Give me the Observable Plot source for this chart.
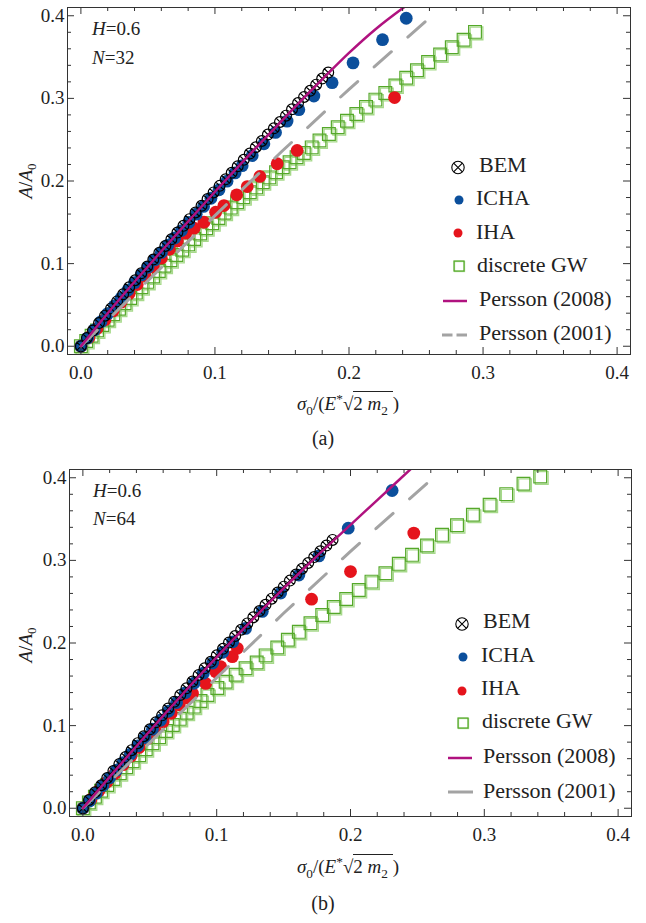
<!DOCTYPE html>
<html>
<head>
<meta charset="utf-8">
<script src="https://cdn.jsdelivr.net/npm/d3@7"></script>
<script src="https://cdn.jsdelivr.net/npm/@observablehq/plot@0.6"></script>
<style>
  body { margin: 0; background: #fff; }
  #wrap { position: relative; width: 646px; height: 923px; font-family: "Liberation Serif", "Times New Roman", Tinos, "DejaVu Serif", "Noto Serif", serif; color: #222; }
  .panel { position: absolute; left: 0; width: 646px; }
  #overlay { position: absolute; left: 0; top: 0; pointer-events: none; }
  .xlab { position: absolute; left: 25px; width: 646px; text-align: center; font-size: 19px; line-height: 19px; white-space: nowrap; }
  .xlab sub, .xlab sup { font-size: 70%; line-height: 0; }
  .rad { border-top: 1.2px solid #222; padding-top: 1px; }
</style>
</head>
<body>
<div id="wrap">
  <div class="panel" id="p1" style="top:0px"></div>
  <div class="panel" id="p2" style="top:460px"></div>
  <div class="xlab" style="top:394px"><i>σ</i><sub>0</sub>/(<i>E</i><sup>*</sup>√<span class="rad">2 <i>m</i><sub>2</sub>&nbsp;</span>)</div>
  <div class="xlab" style="top:857px"><i>σ</i><sub>0</sub>/(<i>E</i><sup>*</sup>√<span class="rad">2 <i>m</i><sub>2</sub>&nbsp;</span>)</div>
  <svg id="overlay" width="646" height="923"></svg>
</div>
<script>
// ---------- axis ticks ----------
const majorTicks = [0, 0.1, 0.2, 0.3, 0.4];
const tickLabels = ["0.0", "0.1", "0.2", "0.3", "0.4"];
const minorTicks = [0.02, 0.04, 0.06, 0.08, 0.12, 0.14, 0.16, 0.18, 0.22, 0.24, 0.26, 0.28, 0.32, 0.34, 0.36, 0.38];

// ---------- panel (a): H=0.6, N=32 ----------
const bem32X = [0, 0.0045, 0.009, 0.0135, 0.018, 0.0225, 0.027, 0.0315, 0.036, 0.0405, 0.045, 0.0495, 0.054, 0.0585, 0.063, 0.0675, 0.072, 0.0765, 0.081, 0.0855, 0.09, 0.0945, 0.099, 0.1035, 0.108, 0.1125, 0.117, 0.1215, 0.126, 0.1305, 0.135, 0.1395, 0.144, 0.1485, 0.153, 0.1575, 0.162, 0.1665, 0.171, 0.1755, 0.18, 0.1845];
const bem32Y = [0, 0.010, 0.019, 0.028, 0.037, 0.0458, 0.0543, 0.0629, 0.0714, 0.0799, 0.0883, 0.0966, 0.1049, 0.1132, 0.1214, 0.1295, 0.1376, 0.1457, 0.1538, 0.1619, 0.170, 0.1781, 0.1862, 0.1941, 0.202, 0.2099, 0.2178, 0.2256, 0.2332, 0.2409, 0.2485, 0.2562, 0.2638, 0.2715, 0.2791, 0.2868, 0.2943, 0.3017, 0.3092, 0.3166, 0.324, 0.3312];
const icha32X = [0, 0.005, 0.01, 0.015, 0.02, 0.025, 0.03, 0.035, 0.04, 0.045, 0.05, 0.055, 0.06, 0.065, 0.07, 0.075, 0.0805, 0.086, 0.0915, 0.097, 0.103, 0.109, 0.115, 0.1203, 0.1278, 0.1365, 0.1452, 0.1538, 0.1626, 0.1738, 0.1874, 0.203, 0.225, 0.2427];
const icha32Y = [0, 0.0099, 0.0198, 0.0297, 0.0395, 0.049, 0.0583, 0.0678, 0.077, 0.0863, 0.0955, 0.1045, 0.1135, 0.1225, 0.131, 0.14, 0.1499, 0.1598, 0.1692, 0.1791, 0.1893, 0.1998, 0.2098, 0.2185, 0.2308, 0.2451, 0.2588, 0.2725, 0.2863, 0.3028, 0.319, 0.343, 0.371, 0.397];
const iha32X = [0, 0.006, 0.012, 0.018, 0.024, 0.03, 0.036, 0.042, 0.048, 0.054, 0.06, 0.066, 0.072, 0.0782, 0.0844, 0.0918, 0.1005, 0.1067, 0.1162, 0.1241, 0.1335, 0.1464, 0.1613, 0.234];
const iha32Y = [0, 0.0107, 0.0214, 0.032, 0.0427, 0.0534, 0.064, 0.0747, 0.0853, 0.0959, 0.1066, 0.1172, 0.1275, 0.1368, 0.1428, 0.1501, 0.1622, 0.1703, 0.1833, 0.1933, 0.2055, 0.2209, 0.237, 0.301];
const gw32X = [0, 0.004, 0.008, 0.012, 0.016, 0.020, 0.0242, 0.0284, 0.0326, 0.0368, 0.041, 0.0452, 0.0495, 0.0538, 0.0581, 0.0624, 0.0668, 0.0712, 0.0756, 0.08, 0.0845, 0.089, 0.0935, 0.098, 0.1026, 0.1072, 0.1118, 0.1165, 0.1212, 0.126, 0.1308, 0.1357, 0.1406, 0.1456, 0.1506, 0.1557, 0.1609, 0.1663, 0.1722, 0.178, 0.185, 0.1916, 0.1985, 0.2055, 0.2127, 0.2197, 0.2271, 0.2346, 0.2427, 0.2507, 0.259, 0.268, 0.2767, 0.2855, 0.294];
const gw32Y = [0, 0.0064, 0.0128, 0.0192, 0.0256, 0.032, 0.0387, 0.0454, 0.052, 0.0584, 0.0649, 0.0713, 0.0779, 0.0845, 0.0911, 0.0975, 0.104, 0.1104, 0.1169, 0.1233, 0.1299, 0.1365, 0.1428, 0.1489, 0.1552, 0.1615, 0.1678, 0.1742, 0.1805, 0.1864, 0.1923, 0.1984, 0.2044, 0.2106, 0.2167, 0.2227, 0.2287, 0.234, 0.2407, 0.249, 0.257, 0.265, 0.273, 0.281, 0.2897, 0.2985, 0.3066, 0.3155, 0.325, 0.334, 0.344, 0.353, 0.362, 0.371, 0.3805];
const persson2008_32X = [0, 0.02, 0.04, 0.06, 0.08, 0.10, 0.12, 0.14, 0.16, 0.18, 0.20, 0.22, 0.245];
const persson2008_32Y = [0, 0.040, 0.078, 0.115, 0.151, 0.187, 0.222, 0.256, 0.290, 0.323, 0.355, 0.384, 0.415];

// ---------- panel (b): H=0.6, N=64 ----------
const bem64X = [0, 0.0046, 0.0091, 0.0137, 0.0182, 0.0228, 0.0273, 0.0319, 0.0364, 0.041, 0.0455, 0.0501, 0.0546, 0.0592, 0.0637, 0.0683, 0.0728, 0.0774, 0.0819, 0.0865, 0.091, 0.0956, 0.1001, 0.1047, 0.1092, 0.1138, 0.1183, 0.1229, 0.1274, 0.132, 0.1365, 0.1411, 0.1456, 0.1502, 0.1547, 0.1593, 0.1638, 0.1684, 0.1729, 0.1775, 0.182, 0.1866];
const bem64Y = [0, 0.0100, 0.0193, 0.0279, 0.0366, 0.0451, 0.0535, 0.0619, 0.0703, 0.0788, 0.0872, 0.0956, 0.104, 0.1124, 0.1207, 0.1289, 0.137, 0.1452, 0.1533, 0.1613, 0.1693, 0.1772, 0.1852, 0.1929, 0.2006, 0.2084, 0.2161, 0.2237, 0.2312, 0.2387, 0.2462, 0.2537, 0.261, 0.2682, 0.2755, 0.2828, 0.2899, 0.2969, 0.304, 0.311, 0.318, 0.3248];
const icha64X = [0, 0.005, 0.01, 0.015, 0.02, 0.025, 0.03, 0.0355, 0.041, 0.0465, 0.052, 0.058, 0.064, 0.07, 0.0765, 0.083, 0.09, 0.097, 0.1045, 0.112, 0.1216, 0.1341, 0.1478, 0.1614, 0.1764, 0.1983, 0.2311];
const icha64Y = [0, 0.0088, 0.0182, 0.0275, 0.0368, 0.0461, 0.0553, 0.0655, 0.0755, 0.0855, 0.0956, 0.1065, 0.1174, 0.128, 0.1397, 0.1513, 0.1635, 0.1758, 0.1887, 0.2014, 0.2176, 0.2383, 0.2605, 0.2822, 0.3054, 0.339, 0.3846];
const iha64X = [0, 0.006, 0.012, 0.018, 0.024, 0.03, 0.036, 0.042, 0.048, 0.054, 0.06, 0.066, 0.072, 0.077, 0.0819, 0.0918, 0.0993, 0.103, 0.1117, 0.1154, 0.1709, 0.2, 0.2473];
const iha64Y = [0, 0.0106, 0.0212, 0.0317, 0.0422, 0.0527, 0.0632, 0.0736, 0.084, 0.0944, 0.1047, 0.115, 0.1252, 0.1336, 0.139, 0.1511, 0.1652, 0.1713, 0.1834, 0.1936, 0.253, 0.2865, 0.333];
const gw64X = [0, 0.0045, 0.009, 0.0136, 0.0182, 0.0229, 0.0276, 0.0324, 0.0372, 0.0421, 0.047, 0.052, 0.057, 0.0621, 0.0672, 0.0724, 0.0776, 0.0829, 0.0879, 0.0931, 0.1005, 0.1067, 0.1142, 0.1216, 0.1299, 0.1366, 0.1453, 0.1532, 0.1614, 0.1701, 0.1789, 0.1875, 0.1968, 0.2062, 0.2157, 0.2261, 0.2361, 0.246, 0.2572, 0.2684, 0.2796, 0.2915, 0.304, 0.3164, 0.3293, 0.3418];
const gw64Y = [0, 0.007, 0.014, 0.0211, 0.0282, 0.0354, 0.0424, 0.0496, 0.0568, 0.0641, 0.0713, 0.0787, 0.0861, 0.0935, 0.1008, 0.1082, 0.1156, 0.123, 0.1299, 0.137, 0.1455, 0.153, 0.1615, 0.1695, 0.1765, 0.185, 0.1945, 0.204, 0.2135, 0.224, 0.2339, 0.2436, 0.2533, 0.2642, 0.2743, 0.2845, 0.2958, 0.3067, 0.3179, 0.3309, 0.3426, 0.3552, 0.3673, 0.3802, 0.3927, 0.4016];
const persson2008_64X = [0, 0.02, 0.04, 0.06, 0.08, 0.10, 0.12, 0.14, 0.16, 0.18, 0.20, 0.22, 0.25];
const persson2008_64Y = [0, 0.038, 0.075, 0.112, 0.148, 0.183, 0.217, 0.250, 0.282, 0.313, 0.343, 0.373, 0.418];

// ---------- Persson (2001), same in both panels ----------
const persson2001X = [0, 0.05, 0.1, 0.15, 0.2, 0.257];
const persson2001Y = [0, 0.0795, 0.158, 0.236, 0.311, 0.393];

// ---------- styles ----------
const C = {
  blue: "#0b4f9c", red: "#e5141c", green: "#55a82a", greenLight: "#a6d98a",
  magenta: "#b0127f", gray: "#a3a3a3", ink: "#222", frame: "#333"
};
const FONT = "'Liberation Serif', 'Times New Roman', Tinos, 'DejaVu Serif', 'Noto Serif', serif";

const zip = (xs, ys) => xs.map((x, i) => ({x, y: ys[i]}));

// circle with a cross inside
const circleTimes = {
  draw(context, size) {
    const r = Math.sqrt(size / Math.PI);
    const s = r * Math.SQRT1_2;
    context.moveTo(r, 0);
    context.arc(0, 0, r, 0, 2 * Math.PI);
    context.moveTo(-s, -s); context.lineTo(s, s);
    context.moveTo(-s, s); context.lineTo(s, -s);
  }
};

function panel({bem, icha, iha, gw, p2008, ml, mr, mt, mb, height}) {
  const plotW = 646 - ml - mr, plotH = height - mt - mb;
  const maj = 7, mnr = 4;
  const fmt = d => tickLabels[majorTicks.indexOf(d)];
  const p2001 = zip(persson2001X, persson2001Y);
  return Plot.plot({
    width: 646, height,
    marginLeft: ml, marginRight: mr, marginTop: mt, marginBottom: mb,
    x: {domain: [-0.01, 0.41]},
    y: {domain: [-0.01, 0.41]},
    style: {fontFamily: FONT, fontSize: "19px", background: "transparent", color: C.ink, overflow: "visible"},
    marks: [
      Plot.dot(gw, {x: "x", y: "y", symbol: "square", r: 7.2, fill: "none", stroke: C.greenLight, strokeWidth: 1.3, dx: 1.5, dy: 1.5, clip: true}),
      Plot.dot(gw, {x: "x", y: "y", symbol: "square", r: 7.2, fill: "none", stroke: C.green, strokeWidth: 1.2, clip: true}),
      Plot.dot(iha, {x: "x", y: "y", r: 6.4, fill: C.red, stroke: "none", clip: true}),
      Plot.dot(icha, {x: "x", y: "y", r: 6.4, fill: C.blue, stroke: "none", clip: true}),
      Plot.dot(bem, {x: "x", y: "y", symbol: circleTimes, r: 5.4, fill: "none", stroke: "#000", strokeWidth: 1.2, clip: true}),
      Plot.line(p2001, {x: "x", y: "y", stroke: C.gray, strokeWidth: 3, strokeDasharray: "23,22", clip: true}),
      Plot.line(p2008, {x: "x", y: "y", stroke: C.magenta, strokeWidth: 2.5, curve: "monotone-x", clip: true}),
      Plot.frame({stroke: C.frame, strokeWidth: 1}),
      Plot.tickX(majorTicks, {x: d => d, insetTop: plotH - maj, stroke: C.frame}),
      Plot.tickX(majorTicks, {x: d => d, insetBottom: plotH - maj, stroke: C.frame}),
      Plot.tickX(minorTicks, {x: d => d, insetTop: plotH - mnr, stroke: C.frame}),
      Plot.tickX(minorTicks, {x: d => d, insetBottom: plotH - mnr, stroke: C.frame}),
      Plot.tickY(majorTicks, {y: d => d, insetRight: plotW - maj, stroke: C.frame}),
      Plot.tickY(majorTicks, {y: d => d, insetLeft: plotW - maj, stroke: C.frame}),
      Plot.tickY(minorTicks, {y: d => d, insetRight: plotW - mnr, stroke: C.frame}),
      Plot.tickY(minorTicks, {y: d => d, insetLeft: plotW - mnr, stroke: C.frame}),
      Plot.axisX({ticks: majorTicks, tickFormat: fmt, tickSize: 0, tickPadding: 11, label: null, fontSize: 19, fill: C.ink}),
      Plot.axisY({ticks: majorTicks, tickFormat: fmt, tickSize: 0, tickPadding: 3, label: null, fontSize: 19, fill: C.ink})
    ]
  });
}

document.getElementById("p1").appendChild(panel({
  bem: zip(bem32X, bem32Y), icha: zip(icha32X, icha32Y), iha: zip(iha32X, iha32Y),
  gw: zip(gw32X, gw32Y), p2008: zip(persson2008_32X, persson2008_32Y),
  ml: 67, mr: 16, mt: 7, mb: 31, height: 385
}));
document.getElementById("p2").appendChild(panel({
  bem: zip(bem64X, bem64Y), icha: zip(icha64X, icha64Y), iha: zip(iha64X, iha64Y),
  gw: zip(gw64X, gw64Y), p2008: zip(persson2008_64X, persson2008_64Y),
  ml: 69, mr: 15, mt: 9, mb: 31, height: 387
}));

// ---------- overlay: annotations, legends, labels ----------
const legendNames = ["BEM", "ICHA", "IHA", "discrete GW", "Persson (2008)", "Persson (2001)"];
const panelTexts = [
  {H: "=0.6", N: "=32", tag: "(a)"},
  {H: "=0.6", N: "=64", tag: "(b)"}
];

function overlayFor(o, t, dashed2001) {
  const sym = o.sym, txt = o.txt;
  let s = "";
  s += `<text x="${o.ann.x}" y="${o.ann.y1}" font-size="19"><tspan font-style="italic">H</tspan>${t.H}</text>`;
  s += `<text x="${o.ann.x}" y="${o.ann.y2}" font-size="19"><tspan font-style="italic">N</tspan>${t.N}</text>`;
  const [bx, by] = sym[0];
  const r = 6.2, q = r * Math.SQRT1_2;
  s += `<g stroke="#000" stroke-width="1.1" fill="none"><circle cx="${bx}" cy="${by}" r="${r}"/>` +
       `<path d="M${bx - q},${by - q}L${bx + q},${by + q}M${bx - q},${by + q}L${bx + q},${by - q}"/></g>`;
  s += `<circle cx="${sym[1][0]}" cy="${sym[1][1]}" r="4.5" fill="${C.blue}"/>`;
  s += `<circle cx="${sym[2][0]}" cy="${sym[2][1]}" r="4.5" fill="${C.red}"/>`;
  s += `<rect x="${sym[3][0] - 4.5}" y="${sym[3][1] - 4.5}" width="10" height="10" fill="none" stroke="${C.greenLight}" stroke-width="1.3"/>`;
  s += `<rect x="${sym[3][0] - 5}" y="${sym[3][1] - 5}" width="10" height="10" fill="none" stroke="${C.green}" stroke-width="1.2"/>`;
  s += `<line x1="${sym[4][0]}" x2="${sym[4][0] + 24}" y1="${sym[4][1]}" y2="${sym[4][1]}" stroke="${C.magenta}" stroke-width="2.5"/>`;
  s += `<line x1="${sym[5][0]}" x2="${sym[5][0] + 25}" y1="${sym[5][1]}" y2="${sym[5][1]}" stroke="${C.gray}" stroke-width="3" ${dashed2001 ? 'stroke-dasharray="10.5,4"' : ""}/>`;
  legendNames.forEach((name, i) => {
    s += `<text x="${txt[i][0]}" y="${txt[i][1]}" font-size="22">${name}</text>`;
  });
  s += `<text transform="translate(${o.ylab[0]},${o.ylab[1]}) rotate(-90)" text-anchor="middle" font-size="19">` +
       `<tspan font-style="italic">A</tspan>/<tspan font-style="italic">A</tspan><tspan font-size="13" dy="4">0</tspan></text>`;
  s += `<text x="323" y="${o.tagY}" text-anchor="middle" font-size="20">${t.tag}</text>`;
  return s;
}

const ov1 = {
  ann: {x: 92, y1: 35, y2: 64},
  sym: [[458, 167.5], [459, 200], [458, 233], [459, 266], [443, 301], [442, 335]],
  txt: [[479, 171.5], [476, 205], [476, 239], [477, 272], [479, 306], [479, 340]],
  ylab: [32, 181], tagY: 445
};
const ov2 = {
  ann: {x: 93, y1: 497, y2: 525},
  sym: [[462, 624], [463, 657], [462, 691], [463, 723], [448, 758], [448, 792]],
  txt: [[483, 628], [481, 662], [481, 695], [482, 728], [483, 763], [483, 798]],
  ylab: [32, 645], tagY: 910
};

const overlay = document.getElementById("overlay");
overlay.innerHTML = `<g font-family="${FONT}" fill="${C.ink}">` +
  overlayFor(ov1, panelTexts[0], true) + overlayFor(ov2, panelTexts[1], false) + `</g>`;
</script>
</body>
</html>
